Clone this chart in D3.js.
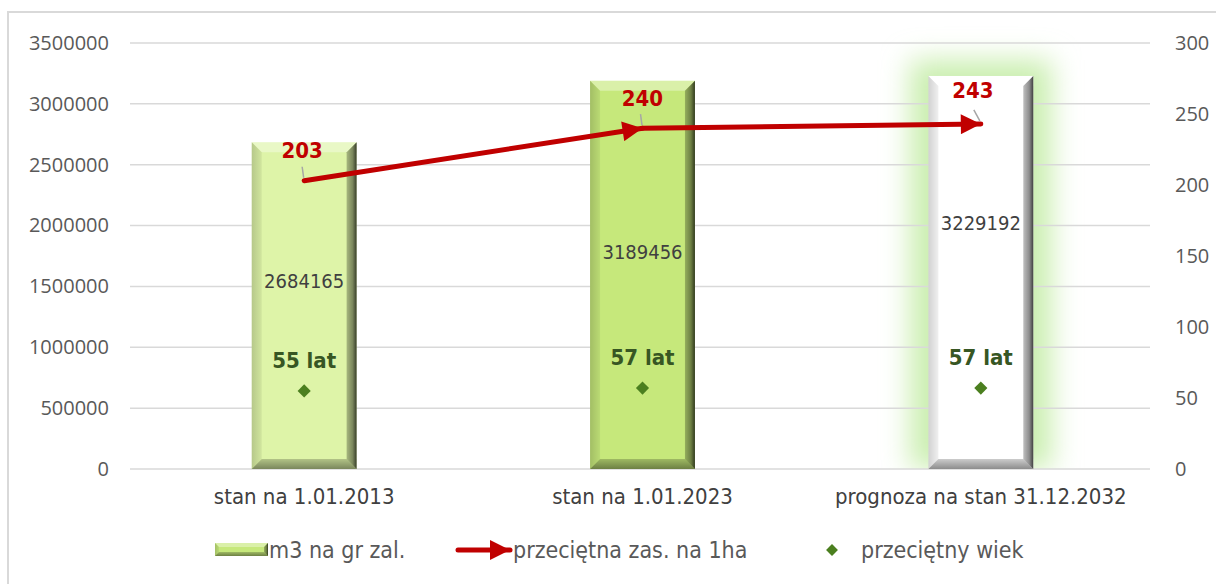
<!DOCTYPE html>
<html>
<head>
  <meta charset="utf-8">
  <title>Zasoby</title>
  <style>
    body { margin: 0; background: #fff; }
    svg { display: block; }
  </style>
</head>
<body>
  <script src="https://d3js.org/d3.v7.min.js"></script>
  <script>
  // data
  var categories = ["stan na 1.01.2013", "stan na 1.01.2023", "prognoza na stan 31.12.2032"];
  var volume = [2684165, 3189456, 3229192];      // m3 na gr zal.
  var avgStock = [203, 240, 243];                // przecietna zas. na 1ha
  var avgAge = [55, 57, 57];                     // przecietny wiek
  var leftTicks = [0, 500000, 1000000, 1500000, 2000000, 2500000, 3000000, 3500000];
  var rightTicks = [0, 50, 100, 150, 200, 250, 300];
  var seriesNames = ["m3 na gr zal.", "przeciętna zas. na 1ha", "przeciętny wiek"];

  var W = 1216, H = 584;
  var plot = {left: 130, right: 1150, top: 43, bottom: 469};
  var txtFont = "'DejaVu Sans Condensed', 'DejaVu Sans', sans-serif";
  var axFont = "'Open Sans', sans-serif";

  var svg = d3.select("body").append("svg")
      .attr("width", W)
      .attr("height", H);

  var defs = svg.append("defs");
  defs.append("filter").attr("id", "glow")
      .attr("x", "-60%").attr("y", "-30%").attr("width", "220%").attr("height", "160%")
    .append("feGaussianBlur").attr("stdDeviation", 14);

  function grad(id, x2, y2, stops) {
    var g = defs.append("linearGradient").attr("id", id)
      .attr("x1", 0).attr("y1", 0).attr("x2", x2).attr("y2", y2);
    stops.forEach(function(s){
      g.append("stop").attr("offset", s[0]).attr("stop-color", "#000").attr("stop-opacity", s[1]);
    });
  }
  grad("bevR", 1, 0, [[0, 0.25], [0.6, 0.45], [1, 0.75]]);
  grad("bevB", 0, 1, [[0, 0.2], [1, 0.45]]);
  grad("bevL", 1, 0, [[0, 0.18], [1, 0.06]]);

  defs.append("marker").attr("id", "arrow")
      .attr("markerUnits", "userSpaceOnUse")
      .attr("viewBox", "0 0 20 20")
      .attr("refX", 20).attr("refY", 10)
      .attr("markerWidth", 22).attr("markerHeight", 20)
      .attr("orient", "auto")
    .append("path").attr("d", "M0,0 L20,10 L0,20 Z").attr("fill", "#c00000");

  // chart frame
  svg.append("rect")
      .attr("x", 8).attr("y", 12).attr("width", W + 10).attr("height", H + 10)
      .attr("fill", "none").attr("stroke", "#d9d9d9").attr("stroke-width", 2);

  var x = d3.scaleBand()
      .domain(categories)
      .range([135, 1150])
      .paddingInner(0.69)
      .paddingOuter(0.345);

  var yL = d3.scaleLinear().domain([0, 3500000]).range([plot.bottom, plot.top]);
  var yR = d3.scaleLinear().domain([0, 300]).range([plot.bottom, plot.top]);

  // glow behind the forecast bar
  svg.append("rect")
      .attr("x", x(categories[2]) - 18)
      .attr("y", yL(volume[2]) - 16)
      .attr("width", x.bandwidth() + 36)
      .attr("height", plot.bottom - yL(volume[2]) + 16)
      .attr("fill", "#c9eeae")
      .attr("filter", "url(#glow)");
  svg.append("rect")
      .attr("x", plot.left).attr("y", yL(0)).attr("width", plot.right - plot.left).attr("height", 50)
      .attr("fill", "#ffffff");

  // gridlines
  svg.append("g").selectAll("line")
    .data(leftTicks)
    .enter().append("line")
      .attr("x1", plot.left).attr("x2", plot.right)
      .attr("y1", function(d){ return yL(d); })
      .attr("y2", function(d){ return yL(d); })
      .attr("stroke", "#d9d9d9").attr("stroke-width", 1.5);

  // left axis
  var gl = svg.append("g")
      .attr("transform", "translate(" + (plot.left - 18) + ",0)")
      .call(d3.axisLeft(yL).tickValues(leftTicks).tickFormat(d3.format("d")).tickSize(0));
  gl.select(".domain").remove();
  gl.selectAll("text").attr("font-family", axFont).attr("font-size", 20).attr("fill", "#595959");

  // right axis
  var gr = svg.append("g")
      .attr("transform", "translate(" + (plot.right + 22) + ",0)")
      .call(d3.axisRight(yR).tickValues(rightTicks).tickSize(0));
  gr.select(".domain").remove();
  gr.selectAll("text").attr("font-family", axFont).attr("font-size", 20).attr("fill", "#595959");

  // category axis labels
  var gx = svg.append("g")
      .attr("transform", "translate(0," + (plot.bottom + 16) + ")")
      .call(d3.axisBottom(x).tickSize(0));
  gx.select(".domain").remove();
  gx.selectAll("text").attr("font-family", txtFont).attr("font-size", 22).attr("fill", "#404040");

  // bars with a bevel look
  var barFill = ["#def4a8", "#c6e87b", "#ffffff"];
  var bev = 10;

  function drawBar(g, x0, y0, w, h, fill, b) {
    g.append("rect").attr("x", x0).attr("y", y0).attr("width", w).attr("height", h).attr("fill", fill);
    // top
    g.append("polygon").attr("points", [[x0, y0], [x0 + w, y0], [x0 + w - b, y0 + b], [x0 + b, y0 + b]].join(" "))
      .attr("fill", "#ffffff").attr("fill-opacity", 0.35);
    // left
    g.append("polygon").attr("points", [[x0, y0], [x0 + b, y0 + b], [x0 + b, y0 + h - b], [x0, y0 + h]].join(" "))
      .attr("fill", "url(#bevL)");
    // bottom
    g.append("polygon").attr("points", [[x0, y0 + h], [x0 + b, y0 + h - b], [x0 + w - b, y0 + h - b], [x0 + w, y0 + h]].join(" "))
      .attr("fill", "url(#bevB)");
    // right
    g.append("polygon").attr("points", [[x0 + w, y0], [x0 + w - b, y0 + b], [x0 + w - b, y0 + h - b], [x0 + w, y0 + h]].join(" "))
      .attr("fill", "url(#bevR)");
  }

  var bars = svg.append("g");
  volume.forEach(function(v, i) {
    drawBar(bars, x(categories[i]), yL(v), x.bandwidth(), yL(0) - yL(v), barFill[i], bev);
  });

  // value labels inside bars
  var labelLevel = [1545000, 1783000, 2021000];
  svg.append("g").selectAll("text")
    .data(volume)
    .enter().append("text")
      .attr("x", function(d, i){ return x(categories[i]) + x.bandwidth() / 2; })
      .attr("y", function(d, i){ return yL(labelLevel[i]); })
      .attr("dy", "0.35em")
      .attr("text-anchor", "middle")
      .attr("font-family", txtFont).attr("font-size", 20).attr("fill", "#404040")
      .text(function(d){ return d; });

  // average stock line with arrows
  var pts = avgStock.map(function(v, i){ return [x(categories[i]) + x.bandwidth() / 2, yR(v)]; });
  var lineG = svg.append("g");
  for (var i = 0; i < pts.length - 1; i++) {
    lineG.append("line")
      .attr("x1", pts[i][0]).attr("y1", pts[i][1])
      .attr("x2", pts[i + 1][0]).attr("y2", pts[i + 1][1])
      .attr("stroke", "#c00000").attr("stroke-width", 5)
      .attr("stroke-linecap", "round")
      .attr("marker-end", "url(#arrow)");
  }

  // leader lines + labels for stock
  var lblShift = [[-2, -30], [0, -30], [-8, -34]];
  pts.forEach(function(p, i) {
    lineG.append("line")
      .attr("x1", p[0] + (i === 2 ? -7 : -2)).attr("y1", p[1] - 14)
      .attr("x2", p[0] + (i === 2 ? -1 : -0.5)).attr("y2", p[1] - 3)
      .attr("stroke", "#a6a6a6").attr("stroke-width", 1.5);
    lineG.append("text")
      .attr("x", p[0] + lblShift[i][0])
      .attr("y", p[1] + lblShift[i][1])
      .attr("dy", "0.35em")
      .attr("text-anchor", "middle")
      .attr("font-family", txtFont).attr("font-weight", "bold")
      .attr("font-size", 22).attr("fill", "#c00000")
      .text(avgStock[i]);
  });

  // average age diamonds and labels
  var ageG = svg.append("g");
  avgAge.forEach(function(a, i) {
    var cx = x(categories[i]) + x.bandwidth() / 2, cy = yR(a);
    ageG.append("path")
      .attr("transform", "translate(" + cx + "," + cy + ")")
      .attr("d", d3.symbol().type(d3.symbolDiamond2).size(110))
      .attr("fill", "#4b7f1f");
    ageG.append("text")
      .attr("x", cx).attr("y", cy - 31)
      .attr("dy", "0.35em")
      .attr("text-anchor", "middle")
      .attr("font-family", txtFont).attr("font-weight", "bold")
      .attr("font-size", 22).attr("fill", "#375623")
      .text(a + " lat");
  });

  // legend
  var leg = svg.append("g").attr("transform", "translate(0,550)");
  var legFont = {family: txtFont, size: 23, fill: "#595959"};
  drawBar(leg, 215, -7, 53, 13, "#c6e87b", 4);
  leg.append("text").attr("x", 269).attr("y", 0).attr("dy", "0.35em")
    .attr("font-family", legFont.family).attr("font-size", legFont.size).attr("fill", legFont.fill)
    .text(seriesNames[0]);
  leg.append("line").attr("x1", 458).attr("y1", 0).attr("x2", 510).attr("y2", 0)
    .attr("stroke", "#c00000").attr("stroke-width", 5).attr("stroke-linecap", "round")
    .attr("marker-end", "url(#arrow)");
  leg.append("text").attr("x", 513).attr("y", 0).attr("dy", "0.35em")
    .attr("font-family", legFont.family).attr("font-size", legFont.size).attr("fill", legFont.fill)
    .text(seriesNames[1]);
  leg.append("path").attr("transform", "translate(832,0)")
    .attr("d", d3.symbol().type(d3.symbolDiamond2).size(90))
    .attr("fill", "#4b7f1f");
  leg.append("text").attr("x", 861).attr("y", 0).attr("dy", "0.35em")
    .attr("font-family", legFont.family).attr("font-size", legFont.size).attr("fill", legFont.fill)
    .text(seriesNames[2]);
  </script>
</body>
</html>
